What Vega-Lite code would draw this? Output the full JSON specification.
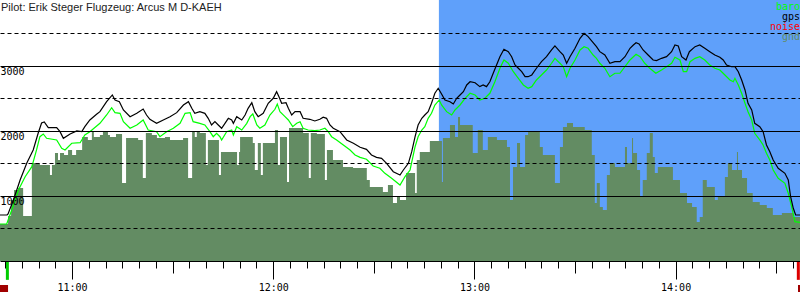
{
"$schema":"https://vega.github.io/schema/vega-lite/v6.json",
"width":800,"height":261,
"autosize":{"type":"none"},
"padding":{"left":0,"top":0,"right":0,"bottom":39},
"background":"white",
"config":{"view":{"stroke":null}},
"resolve":{"axis":{"x":"independent"}},
"datasets":{
"phase":[{"start":769.4,"end":877.1}],
"events":[{"time":640.7,"event":"takeoff"},{"time":876.6,"event":"landing"}],
"marker":[{"start":638.5,"end":640.9},{"start":876.5,"end":877.1}],
"gnd":[{"time":638.5,"alt":569},{"time":640.9,"alt":692},{"time":641.8,"alt":938},{"time":642.7,"alt":1092},{"time":643.9,"alt":1123},{"time":645.4,"alt":692},{"time":648.0,"alt":1508},{"time":650.4,"alt":1477},{"time":653.4,"alt":1323},{"time":654.0,"alt":1477},{"time":654.9,"alt":1662},{"time":655.8,"alt":1554},{"time":656.4,"alt":1662},{"time":657.6,"alt":1631},{"time":658.8,"alt":1708},{"time":660.0,"alt":1631},{"time":661.2,"alt":1708},{"time":663.0,"alt":1908},{"time":664.7,"alt":1862},{"time":665.9,"alt":2000},{"time":666.5,"alt":1908},{"time":668.3,"alt":1938},{"time":669.2,"alt":2000},{"time":670.7,"alt":1938},{"time":671.3,"alt":1908},{"time":673.1,"alt":1954},{"time":674.9,"alt":1200},{"time":676.1,"alt":1892},{"time":679.7,"alt":1862},{"time":681.1,"alt":1277},{"time":682.0,"alt":1969},{"time":683.8,"alt":1938},{"time":685.3,"alt":1892},{"time":687.7,"alt":1908},{"time":689.2,"alt":1862},{"time":693.1,"alt":1892},{"time":694.6,"alt":1277},{"time":695.8,"alt":2000},{"time":696.6,"alt":1908},{"time":697.2,"alt":2000},{"time":698.1,"alt":1969},{"time":699.9,"alt":1477},{"time":700.5,"alt":1862},{"time":703.8,"alt":1323},{"time":704.4,"alt":1677},{"time":709.2,"alt":1477},{"time":709.8,"alt":1677},{"time":710.1,"alt":1908},{"time":713.9,"alt":1815},{"time":714.5,"alt":1400},{"time":715.4,"alt":1815},{"time":716.3,"alt":1323},{"time":716.9,"alt":1815},{"time":720.5,"alt":2015},{"time":721.4,"alt":1477},{"time":722.0,"alt":1908},{"time":724.1,"alt":1215},{"time":724.7,"alt":2046},{"time":728.9,"alt":1969},{"time":730.6,"alt":1277},{"time":731.2,"alt":1969},{"time":733.0,"alt":1954},{"time":735.4,"alt":1246},{"time":736.0,"alt":1708},{"time":737.8,"alt":1554},{"time":740.8,"alt":1446},{"time":743.8,"alt":1431},{"time":747.9,"alt":1246},{"time":748.8,"alt":1138},{"time":752.7,"alt":1062},{"time":754.2,"alt":1169},{"time":755.7,"alt":892},{"time":756.9,"alt":985},{"time":757.8,"alt":938},{"time":759.6,"alt":1354},{"time":762.3,"alt":1046},{"time":762.8,"alt":1554},{"time":763.7,"alt":1677},{"time":766.7,"alt":1846},{"time":770.3,"alt":1215},{"time":770.6,"alt":1892},{"time":772.7,"alt":2092},{"time":774.2,"alt":1908},{"time":775.1,"alt":2215},{"time":775.7,"alt":2092},{"time":779.5,"alt":1662},{"time":781.0,"alt":2015},{"time":782.5,"alt":1708},{"time":784.0,"alt":1908},{"time":786.7,"alt":1862},{"time":789.7,"alt":1754},{"time":790.6,"alt":938},{"time":791.5,"alt":1446},{"time":792.7,"alt":1815},{"time":793.6,"alt":1446},{"time":795.1,"alt":1938},{"time":796.0,"alt":1985},{"time":799.5,"alt":1754},{"time":800.4,"alt":1631},{"time":804.0,"alt":1200},{"time":805.5,"alt":1754},{"time":806.4,"alt":2062},{"time":807.6,"alt":2123},{"time":809.4,"alt":2062},{"time":812.9,"alt":2015},{"time":815.0,"alt":1631},{"time":815.9,"alt":892},{"time":816.5,"alt":1200},{"time":817.4,"alt":831},{"time":818.3,"alt":785},{"time":819.5,"alt":1323},{"time":820.4,"alt":1508},{"time":821.9,"alt":1446},{"time":824.9,"alt":1754},{"time":825.5,"alt":1508},{"time":827.0,"alt":1892},{"time":827.3,"alt":1662},{"time":828.5,"alt":1400},{"time":829.4,"alt":985},{"time":830.2,"alt":1246},{"time":831.4,"alt":1662},{"time":832.3,"alt":1969},{"time":833.2,"alt":1600},{"time":833.8,"alt":1354},{"time":834.7,"alt":1446},{"time":839.2,"alt":1246},{"time":841.3,"alt":1046},{"time":843.4,"alt":892},{"time":844.9,"alt":831},{"time":846.3,"alt":600},{"time":847.2,"alt":677},{"time":848.1,"alt":1246},{"time":849.3,"alt":1138},{"time":851.7,"alt":938},{"time":852.6,"alt":985},{"time":854.7,"alt":1292},{"time":855.6,"alt":1508},{"time":856.8,"alt":1400},{"time":858.3,"alt":1677},{"time":858.6,"alt":1400},{"time":859.8,"alt":1277},{"time":861.3,"alt":1046},{"time":863.0,"alt":908},{"time":865.1,"alt":862},{"time":867.2,"alt":815},{"time":869.0,"alt":708},{"time":871.7,"alt":738},{"time":875.0,"alt":677},{"time":877.1,"alt":677}],
"baro":[{"time":638.5,"alt":569},{"time":640.5,"alt":569},{"time":642.0,"alt":785},{"time":644.0,"alt":1092},{"time":646.0,"alt":1297},{"time":648.0,"alt":1451},{"time":649.4,"alt":1708},{"time":650.4,"alt":1912},{"time":651.4,"alt":1954},{"time":652.4,"alt":1888},{"time":655.4,"alt":1862},{"time":656.9,"alt":1734},{"time":657.9,"alt":1708},{"time":659.9,"alt":1811},{"time":662.4,"alt":1820},{"time":663.8,"alt":1938},{"time":665.3,"alt":1989},{"time":668.3,"alt":2118},{"time":670.3,"alt":2246},{"time":671.8,"alt":2358},{"time":672.8,"alt":2282},{"time":674.3,"alt":2272},{"time":675.3,"alt":2143},{"time":677.3,"alt":2042},{"time":679.3,"alt":2092},{"time":681.2,"alt":2169},{"time":682.7,"alt":2015},{"time":685.2,"alt":1989},{"time":686.2,"alt":1912},{"time":688.2,"alt":1989},{"time":690.2,"alt":2042},{"time":692.2,"alt":2118},{"time":693.7,"alt":2272},{"time":695.2,"alt":2282},{"time":696.1,"alt":2143},{"time":698.1,"alt":2118},{"time":699.6,"alt":2092},{"time":701.1,"alt":1989},{"time":702.1,"alt":1912},{"time":703.1,"alt":1965},{"time":704.1,"alt":1912},{"time":704.6,"alt":1862},{"time":706.1,"alt":1989},{"time":707.6,"alt":2015},{"time":708.1,"alt":1938},{"time":709.1,"alt":2066},{"time":710.6,"alt":2015},{"time":712.1,"alt":2118},{"time":713.1,"alt":2220},{"time":713.9,"alt":2262},{"time":715.1,"alt":2092},{"time":716.0,"alt":2042},{"time":717.5,"alt":2092},{"time":719.0,"alt":2246},{"time":720.5,"alt":2334},{"time":721.2,"alt":2415},{"time":722.0,"alt":2297},{"time":723.5,"alt":2220},{"time":724.5,"alt":2169},{"time":725.8,"alt":2066},{"time":727.0,"alt":2118},{"time":728.0,"alt":2143},{"time":728.9,"alt":2042},{"time":730.4,"alt":2015},{"time":732.4,"alt":2005},{"time":733.9,"alt":2015},{"time":735.4,"alt":2042},{"time":736.4,"alt":1989},{"time":737.4,"alt":1912},{"time":738.9,"alt":1862},{"time":740.9,"alt":1785},{"time":742.9,"alt":1708},{"time":744.4,"alt":1631},{"time":745.9,"alt":1595},{"time":747.8,"alt":1565},{"time":749.8,"alt":1462},{"time":751.8,"alt":1426},{"time":753.3,"alt":1349},{"time":755.3,"alt":1272},{"time":757.8,"alt":1169},{"time":759.3,"alt":1297},{"time":760.8,"alt":1400},{"time":762.3,"alt":1758},{"time":763.2,"alt":1912},{"time":764.3,"alt":2015},{"time":765.2,"alt":2066},{"time":766.2,"alt":2195},{"time":767.2,"alt":2272},{"time":768.2,"alt":2400},{"time":769.5,"alt":2477},{"time":770.2,"alt":2400},{"time":771.7,"alt":2297},{"time":773.2,"alt":2246},{"time":774.2,"alt":2323},{"time":775.7,"alt":2400},{"time":777.2,"alt":2503},{"time":778.7,"alt":2580},{"time":780.2,"alt":2554},{"time":781.6,"alt":2477},{"time":783.1,"alt":2503},{"time":784.6,"alt":2580},{"time":786.1,"alt":2758},{"time":787.6,"alt":2965},{"time":788.8,"alt":3092},{"time":790.1,"alt":3042},{"time":791.6,"alt":2912},{"time":793.1,"alt":2811},{"time":794.6,"alt":2708},{"time":796.0,"alt":2657},{"time":797.1,"alt":2682},{"time":798.5,"alt":2785},{"time":800.0,"alt":2862},{"time":801.5,"alt":2938},{"time":803.0,"alt":3042},{"time":804.0,"alt":3118},{"time":805.5,"alt":3042},{"time":806.5,"alt":2989},{"time":807.5,"alt":2835},{"time":808.5,"alt":2965},{"time":810.0,"alt":3092},{"time":811.5,"alt":3246},{"time":812.7,"alt":3297},{"time":813.9,"alt":3272},{"time":815.4,"alt":3169},{"time":816.4,"alt":3118},{"time":817.4,"alt":3042},{"time":818.9,"alt":2965},{"time":820.4,"alt":2835},{"time":821.9,"alt":2888},{"time":823.4,"alt":2888},{"time":824.9,"alt":2989},{"time":826.4,"alt":3092},{"time":828.2,"alt":3180},{"time":829.4,"alt":3143},{"time":830.8,"alt":3042},{"time":832.3,"alt":2965},{"time":834.1,"alt":2888},{"time":835.8,"alt":2938},{"time":837.3,"alt":2989},{"time":838.8,"alt":3042},{"time":839.8,"alt":3134},{"time":841.3,"alt":3092},{"time":842.3,"alt":2912},{"time":843.3,"alt":2912},{"time":844.3,"alt":3066},{"time":845.8,"alt":3118},{"time":847.2,"alt":3143},{"time":848.7,"alt":3092},{"time":850.2,"alt":3015},{"time":851.7,"alt":2965},{"time":853.2,"alt":2938},{"time":854.7,"alt":2862},{"time":856.2,"alt":2785},{"time":857.2,"alt":2758},{"time":857.7,"alt":2811},{"time":858.7,"alt":2708},{"time":859.7,"alt":2580},{"time":860.7,"alt":2426},{"time":861.6,"alt":2297},{"time":862.7,"alt":2169},{"time":863.6,"alt":1965},{"time":865.1,"alt":1862},{"time":866.1,"alt":1785},{"time":867.1,"alt":1657},{"time":868.1,"alt":1554},{"time":869.1,"alt":1400},{"time":870.6,"alt":1272},{"time":872.6,"alt":1195},{"time":873.6,"alt":1042},{"time":874.6,"alt":835},{"time":875.6,"alt":605},{"time":877.1,"alt":595}],
"gps":[{"time":638.5,"alt":708},{"time":640.6,"alt":708},{"time":640.9,"alt":723},{"time":642.5,"alt":938},{"time":644.5,"alt":1246},{"time":646.5,"alt":1508},{"time":648.4,"alt":1708},{"time":649.9,"alt":1969},{"time":650.9,"alt":2123},{"time":651.7,"alt":2138},{"time":652.9,"alt":2051},{"time":655.4,"alt":2051},{"time":656.4,"alt":1989},{"time":657.4,"alt":1888},{"time":659.4,"alt":1954},{"time":661.4,"alt":2000},{"time":662.9,"alt":1992},{"time":663.8,"alt":2066},{"time":665.3,"alt":2169},{"time":667.3,"alt":2257},{"time":668.3,"alt":2297},{"time":670.3,"alt":2451},{"time":672.0,"alt":2554},{"time":672.8,"alt":2477},{"time":674.1,"alt":2451},{"time":675.3,"alt":2323},{"time":677.3,"alt":2220},{"time":679.3,"alt":2272},{"time":681.2,"alt":2338},{"time":682.2,"alt":2246},{"time":683.2,"alt":2180},{"time":685.2,"alt":2118},{"time":687.2,"alt":2169},{"time":689.2,"alt":2220},{"time":691.2,"alt":2282},{"time":693.2,"alt":2400},{"time":694.7,"alt":2451},{"time":695.7,"alt":2349},{"time":696.6,"alt":2272},{"time":698.1,"alt":2297},{"time":699.6,"alt":2272},{"time":700.6,"alt":2195},{"time":701.6,"alt":2092},{"time":702.6,"alt":2143},{"time":703.6,"alt":2092},{"time":704.6,"alt":2042},{"time":705.6,"alt":2118},{"time":706.6,"alt":2195},{"time":707.6,"alt":2169},{"time":708.1,"alt":2118},{"time":709.1,"alt":2220},{"time":710.6,"alt":2169},{"time":711.6,"alt":2246},{"time":712.5,"alt":2349},{"time":713.6,"alt":2435},{"time":714.5,"alt":2297},{"time":715.5,"alt":2220},{"time":717.0,"alt":2272},{"time":718.5,"alt":2426},{"time":720.0,"alt":2503},{"time":721.0,"alt":2605},{"time":721.7,"alt":2528},{"time":722.5,"alt":2426},{"time":723.8,"alt":2435},{"time":724.5,"alt":2349},{"time":725.5,"alt":2246},{"time":726.5,"alt":2297},{"time":728.0,"alt":2297},{"time":728.9,"alt":2195},{"time":730.9,"alt":2180},{"time":732.4,"alt":2154},{"time":733.9,"alt":2180},{"time":734.9,"alt":2211},{"time":735.9,"alt":2195},{"time":736.9,"alt":2092},{"time":737.9,"alt":2042},{"time":739.9,"alt":1989},{"time":741.9,"alt":1862},{"time":743.9,"alt":1811},{"time":745.9,"alt":1749},{"time":747.8,"alt":1718},{"time":749.3,"alt":1631},{"time":750.8,"alt":1595},{"time":752.3,"alt":1580},{"time":753.8,"alt":1503},{"time":755.8,"alt":1374},{"time":757.8,"alt":1323},{"time":758.8,"alt":1400},{"time":760.3,"alt":1503},{"time":761.3,"alt":1682},{"time":762.3,"alt":1912},{"time":763.2,"alt":2092},{"time":764.3,"alt":2195},{"time":765.2,"alt":2246},{"time":766.2,"alt":2297},{"time":767.2,"alt":2426},{"time":768.2,"alt":2580},{"time":769.2,"alt":2657},{"time":770.2,"alt":2569},{"time":771.2,"alt":2477},{"time":772.7,"alt":2451},{"time":773.7,"alt":2415},{"time":774.7,"alt":2503},{"time":775.7,"alt":2554},{"time":776.7,"alt":2605},{"time":777.7,"alt":2708},{"time":778.7,"alt":2758},{"time":780.2,"alt":2743},{"time":781.6,"alt":2682},{"time":782.6,"alt":2708},{"time":783.6,"alt":2682},{"time":784.6,"alt":2758},{"time":785.6,"alt":2888},{"time":786.6,"alt":3015},{"time":787.6,"alt":3143},{"time":788.8,"alt":3257},{"time":790.1,"alt":3220},{"time":791.1,"alt":3143},{"time":792.1,"alt":3015},{"time":793.1,"alt":2965},{"time":794.1,"alt":2912},{"time":795.1,"alt":2835},{"time":796.0,"alt":2835},{"time":797.1,"alt":2862},{"time":798.5,"alt":2965},{"time":800.0,"alt":3066},{"time":801.5,"alt":3143},{"time":803.0,"alt":3246},{"time":804.0,"alt":3308},{"time":805.5,"alt":3220},{"time":806.5,"alt":3169},{"time":807.5,"alt":3042},{"time":808.5,"alt":3143},{"time":810.0,"alt":3272},{"time":811.5,"alt":3426},{"time":812.7,"alt":3503},{"time":813.9,"alt":3451},{"time":815.4,"alt":3358},{"time":816.4,"alt":3297},{"time":817.4,"alt":3220},{"time":818.9,"alt":3169},{"time":820.4,"alt":3042},{"time":821.9,"alt":3066},{"time":823.4,"alt":3066},{"time":824.9,"alt":3143},{"time":826.4,"alt":3272},{"time":827.4,"alt":3323},{"time":828.2,"alt":3358},{"time":829.1,"alt":3338},{"time":830.3,"alt":3246},{"time":831.8,"alt":3169},{"time":833.3,"alt":3092},{"time":834.3,"alt":3082},{"time":835.8,"alt":3118},{"time":837.3,"alt":3143},{"time":838.8,"alt":3220},{"time":839.8,"alt":3323},{"time":840.8,"alt":3308},{"time":841.8,"alt":3143},{"time":843.1,"alt":3092},{"time":844.1,"alt":3220},{"time":845.8,"alt":3297},{"time":847.2,"alt":3323},{"time":848.7,"alt":3272},{"time":850.2,"alt":3220},{"time":851.7,"alt":3169},{"time":853.2,"alt":3134},{"time":854.2,"alt":3092},{"time":855.2,"alt":3015},{"time":856.7,"alt":2989},{"time":857.7,"alt":2989},{"time":858.7,"alt":2912},{"time":859.7,"alt":2785},{"time":860.7,"alt":2631},{"time":861.6,"alt":2426},{"time":862.7,"alt":2323},{"time":863.6,"alt":2118},{"time":865.1,"alt":2066},{"time":866.1,"alt":1989},{"time":867.1,"alt":1785},{"time":868.1,"alt":1682},{"time":869.1,"alt":1554},{"time":870.6,"alt":1426},{"time":872.6,"alt":1349},{"time":873.6,"alt":1246},{"time":874.3,"alt":989},{"time":875.1,"alt":811},{"time":875.8,"alt":708},{"time":877.1,"alt":708}]
},
"layer":[
{"data":{"name":"phase"},"mark":{"type":"rect","color":"#5fa0fa"},
 "encoding":{"x":{"field":"start","type":"quantitative","scale":{"domain":[638.5,877.1],"nice":false,"zero":false},"axis":null},"x2":{"field":"end"}}},
{"data":{"name":"gnd"},"mark":{"type":"area","interpolate":"step-after","color":"#638c63"},
 "encoding":{
  "x":{"field":"time","type":"quantitative","scale":{"domain":[638.5,877.1],"nice":false,"zero":false},
   "axis":{"title":null,"orient":"bottom","values":[640,645,650,655,660,665,670,675,680,685,690,695,700,705,710,715,720,725,730,735,740,745,750,755,760,765,770,775,780,785,790,795,800,805,810,815,820,825,830,835,840,845,850,855,860,865,870,875],
    "labels":false,"tickSize":7,"tickColor":"black","tickWidth":1,"domain":true,"domainColor":"black","domainWidth":1,"grid":false,"zindex":1}},
  "y":{"field":"alt","type":"quantitative","scale":{"domain":[0,4015],"nice":false,"zero":false},
   "axis":{"title":null,"values":[500,1000,1500,2000,2500,3000,3500],"format":"d",
    "labelExpr":"datum.value % 1000 === 0 ? datum.label : ''",
    "grid":true,"gridColor":"black","gridWidth":1,"gridOpacity":1,
    "gridDash":{"condition":{"test":"datum.value % 1000 === 0","value":[]},"value":[4,3]},
    "domain":false,"ticks":false,"tickSize":0,"labelAlign":"left","labelBaseline":"top","labelPadding":0,"labelOffset":1,
    "labelFont":"DejaVu Sans Mono","labelFontSize":10,"labelColor":"black","labelFlush":false,"labelOverlap":false,"zindex":1}}}},
{"data":{"name":"baro"},"mark":{"type":"line","color":"#00ff00","strokeWidth":1.2},
 "encoding":{"x":{"field":"time","type":"quantitative",
   "axis":{"title":null,"orient":"bottom","values":[660,690,720,750,780,810,840,870],"labels":false,"tickSize":12,"tickColor":"black","tickWidth":1,"domain":false,"grid":false,"zindex":1}},
  "y":{"field":"alt","type":"quantitative"}}},
{"data":{"name":"gps"},"mark":{"type":"line","color":"black","strokeWidth":1.2},
 "encoding":{"x":{"field":"time","type":"quantitative",
   "axis":{"title":null,"orient":"bottom","values":[660,720,780,840],
    "labelExpr":"floor(datum.value/60) + ':00'","tickSize":18,"tickColor":"black","tickWidth":1,"domain":false,"grid":false,
    "labelFont":"DejaVu Sans Mono","labelFontSize":10,"labelColor":"black","labelBaseline":"top","labelPadding":3,
    "labelFlush":false,"labelOverlap":false,"labelBound":false,"zindex":1}},
  "y":{"field":"alt","type":"quantitative"}}},
{"data":{"name":"events"},"mark":{"type":"rule","strokeWidth":3},
 "encoding":{"x":{"field":"time","type":"quantitative","axis":null},"y":{"datum":0},"y2":{"datum":-290},
  "color":{"field":"event","type":"nominal","scale":{"domain":["takeoff","landing"],"range":["#00cc00","#dd0000"]},"legend":null}}},
{"data":{"name":"marker"},"mark":{"type":"rect","color":"#a00000"},
 "encoding":{"x":{"field":"start","type":"quantitative","axis":null},"x2":{"field":"end"},"y":{"datum":-369},"y2":{"datum":-477}}},
{"data":{"values":[{"label":"Pilot: Erik Steger Flugzeug: Arcus M D-KAEH"}]},"mark":{"type":"text","align":"left","baseline":"alphabetic","font":"Liberation Sans","fontSize":11,"color":"#222"},
 "encoding":{"x":{"datum":638.8,"axis":null},"y":{"datum":3851},"text":{"field":"label"}}},
{"data":{"values":[{"label":"baro"}]},"mark":{"type":"text","align":"right","baseline":"alphabetic","font":"DejaVu Sans Mono","fontSize":10,"color":"#00ff00"},
 "encoding":{"x":{"datum":877.1,"axis":null},"y":{"datum":3862},"text":{"field":"label"}}},
{"data":{"values":[{"label":"gps"}]},"mark":{"type":"text","align":"right","baseline":"alphabetic","font":"DejaVu Sans Mono","fontSize":10,"color":"black"},
 "encoding":{"x":{"datum":877.1,"axis":null},"y":{"datum":3708},"text":{"field":"label"}}},
{"data":{"values":[{"label":"noise"}]},"mark":{"type":"text","align":"right","baseline":"alphabetic","font":"DejaVu Sans Mono","fontSize":10,"color":"red"},
 "encoding":{"x":{"datum":877.1,"axis":null},"y":{"datum":3554},"text":{"field":"label"}}},
{"data":{"values":[{"label":"gnd"}]},"mark":{"type":"text","align":"right","baseline":"alphabetic","font":"DejaVu Sans Mono","fontSize":10,"color":"#638c63"},
 "encoding":{"x":{"datum":877.1,"axis":null},"y":{"datum":3400},"text":{"field":"label"}}}
]
}
